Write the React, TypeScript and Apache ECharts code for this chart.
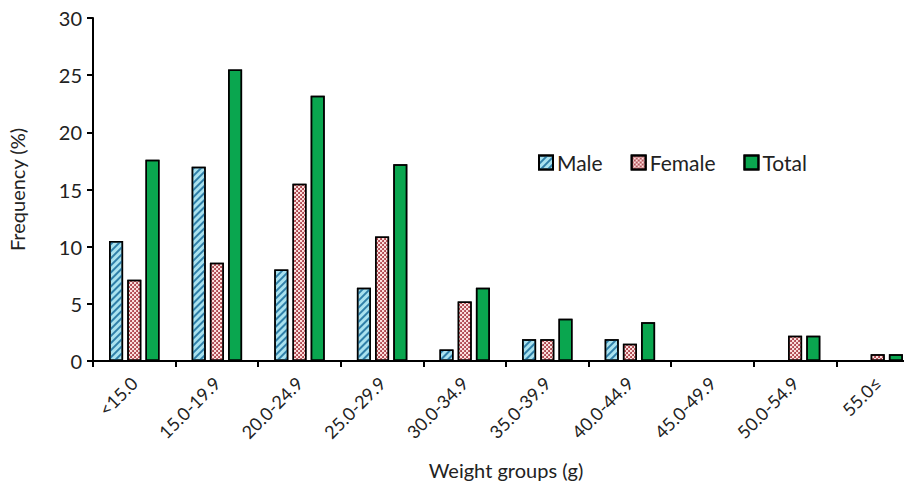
import React, { useEffect, useRef } from "react";
import * as echarts from "echarts";

const categories = ["<15.0", "15.0-19.9", "20.0-24.9", "25.0-29.9", "30.0-34.9", "35.0-39.9", "40.0-44.9", "45.0-49.9", "50.0-54.9", "55.0≤"];
const maleValues = [10.5, 17.0, 8.0, 6.4, 1.0, 1.9, 1.9, 0, 0, 0];
const femaleValues = [7.1, 8.6, 15.5, 10.9, 5.2, 1.9, 1.5, 0, 2.2, 0.6];
const totalValues = [17.6, 25.5, 23.2, 17.2, 6.4, 3.7, 3.4, 0, 2.2, 0.6];
const yTicks = [0, 5, 10, 15, 20, 25, 30];

const FONT = "Lato, 'Open Sans', sans-serif";

export default function App() {
  const ref = useRef<HTMLDivElement>(null);
  useEffect(() => {
    if (!ref.current) return;
    const chart = echarts.init(ref.current, null, { renderer: "svg" });
    const barCommon = {
      type: "bar",
      barWidth: 14,
      barGap: "30%",
    };
    chart.setOption({
      animation: false,
      backgroundColor: "#ffffff",
      aria: { enabled: true, decal: { show: true } },
      textStyle: { fontFamily: FONT },
      grid: { left: 93, top: 18, height: 343, width: 826, containLabel: false, outerBoundsMode: "none" },
      legend: {
        left: 533,
        top: 147,
        icon: "rect",
        itemWidth: 14,
        itemHeight: 14,
        itemGap: 28,
        textStyle: { fontSize: 21, color: "#222", fontFamily: FONT, padding: [0, 0, 0, -1] },
        data: ["Male", "Female", "Total"],
      },
      xAxis: {
        type: "category",
        data: categories,
        name: "Weight groups (g)",
        nameLocation: "middle",
        nameGap: 99,
        nameTextStyle: { fontSize: 20, color: "#222", fontFamily: FONT },
        axisLine: { lineStyle: { color: "#000", width: 2 } },
        axisTick: { show: true, length: 6, lineStyle: { color: "#000", width: 2 }, alignWithLabel: false },
        axisLabel: { rotate: 45, fontSize: 18, color: "#222", margin: 19, interval: 0, fontFamily: FONT },
      },
      yAxis: {
        type: "value",
        min: yTicks[0],
        max: yTicks[yTicks.length - 1],
        interval: 5,
        name: "Frequency (%)",
        nameLocation: "middle",
        nameGap: 66,
        nameRotate: 90,
        nameTextStyle: { fontSize: 20, color: "#222", fontFamily: FONT },
        axisLine: { show: true, lineStyle: { color: "#000", width: 2 } },
        axisTick: { show: true, length: 6, lineStyle: { color: "#000", width: 2 } },
        axisLabel: { fontSize: 20, color: "#222", margin: 11, fontFamily: FONT },
        splitLine: { show: false },
      },
      series: [
        {
          ...barCommon,
          name: "Male",
          data: maleValues,
          itemStyle: {
            color: "#a9e2ef",
            borderColor: "#000",
            borderWidth: 1.5,
            decal: {
              symbol: "rect",
              symbolSize: 1,
              dashArrayX: [1, 0],
              dashArrayY: [1.5, 2.5],
              rotation: -Math.PI / 4,
              color: "#2f7fa8",
            },
          },
        },
        {
          ...barCommon,
          name: "Female",
          data: femaleValues,
          itemStyle: {
            color: "#fbe0de",
            borderColor: "#000",
            borderWidth: 1.5,
            decal: {
              symbol: "circle",
              symbolSize: 0.9,
              dashArrayX: [[2, 2], [0, 2, 2, 0]],
              dashArrayY: [2, 0],
              color: "#9a1f2a",
            },
          },
        },
        {
          ...barCommon,
          name: "Total",
          data: totalValues,
          itemStyle: {
            color: "#0aa64f",
            borderColor: "#000",
            borderWidth: 1.5,
            decal: { symbol: "none" },
          },
        },
      ],
    });
    return () => chart.dispose();
  }, []);
  return <div ref={ref} style={{ width: 912, height: 489, marginLeft: -8, marginTop: -8 }} />;
}
